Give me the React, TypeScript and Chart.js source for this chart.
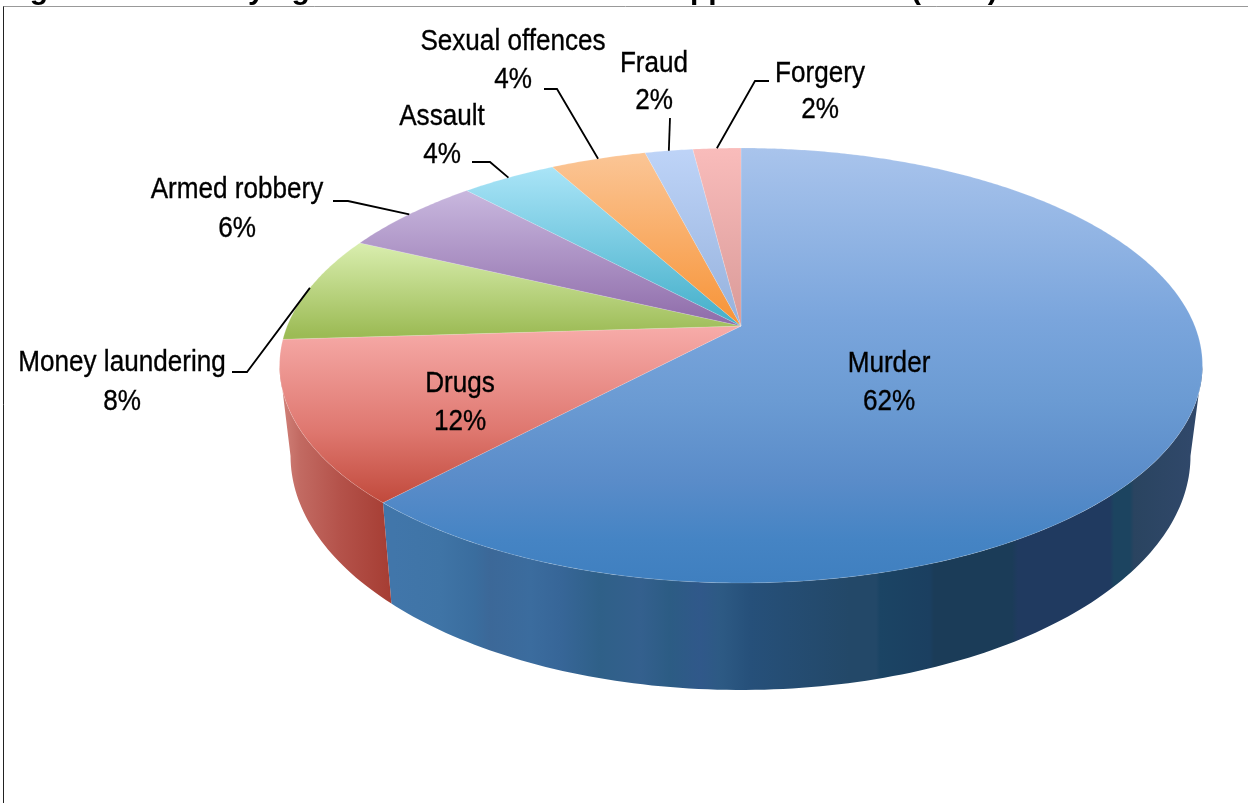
import React, { useEffect, useRef } from "react";
import { Chart, registerables } from "chart.js";

Chart.register(...registerables);

const categories = ["Murder", "Drugs", "Money laundering", "Armed robbery", "Assault", "Sexual offences", "Fraud", "Forgery"];
const shares = [62, 12, 8, 6, 4, 4, 2, 2];
const titleParts = ["Figure 11: Underlying offences of those", "appeals decided", "(2016)"];

// Layout and styling (not data)
const W = 1248;
const H = 803;
const APEX = { x: 741, y: 326 };
const PERSP = 0.1816;
const KY = -151.1;
const KX = 453.8;
const TOP_E = { cx: 741.5, cy: 365.5, rx: 461.5, ry: 217.5 };
const LOW_E = { cx: 741, cy: 456, rx: 450, ry: 234 };
const FONT_SIZE = 29;
const TEXT_SQUEEZE = 0.9;

const faceStops: [number, string][][] = [
  [[148, "#a9c4ec"], [320, "#7aa5dc"], [400, "#6b9bd3"], [480, "#5a8cc9"], [540, "#4584c4"], [583, "#3f7fbf"]],
  [[330, "#f6aaa7"], [430, "#df7870"], [505, "#c0483a"]],
  [[245, "#d8edad"], [335, "#9cbb55"]],
  [[192, "#c8b7de"], [326, "#8e6ba9"]],
  [[168, "#a9e4f7"], [326, "#42aec9"]],
  [[155, "#fbc595"], [326, "#f79336"]],
  [[153, "#bdd3f7"], [326, "#95b1dc"]],
  [[149, "#f9bcbb"], [326, "#d99a98"]],
];

const sideStops: ([number, string][] | null)[] = [
  [[393, "#4176aa"], [440, "#3f74a6"], [475, "#3a6d9e"], [490, "#3c6898"], [530, "#3b6c9e"], [560, "#376698"], [600, "#2f6088"], [640, "#34608e"], [670, "#2c5c84"], [700, "#30588a"], [720, "#2d5a84"], [750, "#26507a"], [850, "#234868"], [876, "#234868"], [880, "#1b4464"], [930, "#1b3f60"], [934, "#1b3c58"], [1012, "#1b3c58"], [1018, "#203a60"], [1110, "#203a60"], [1114, "#1c4460"], [1130, "#1c4460"], [1134, "#2a4460"], [1191, "#30486a"]],
  [[283, "#d08078"], [300, "#c26a62"], [340, "#b4524a"], [393, "#a53c32"]],
  null, null, null, null, null, null,
];

const labelLayout: { cx: number; y1: number; y2: number; elbow: [number, number][] }[] = [
  { cx: 889, y1: 372, y2: 410, elbow: [] },
  { cx: 460, y1: 392, y2: 430, elbow: [] },
  { cx: 122, y1: 371, y2: 410, elbow: [[232, 372], [247, 372]] },
  { cx: 237, y1: 198, y2: 237, elbow: [[333, 201], [348, 201]] },
  { cx: 442, y1: 125, y2: 163, elbow: [[472, 162], [490, 162]] },
  { cx: 513, y1: 50, y2: 88, elbow: [[544, 89], [557, 89]] },
  { cx: 654, y1: 72, y2: 109, elbow: [[670, 118]] },
  { cx: 820, y1: 82, y2: 118, elbow: [[769, 81], [755, 81]] },
];

// theta: clockwise from the top of the pie, radians
function rim(theta: number) {
  const u = Math.sin(theta);
  const v = Math.cos(theta);
  const d = 1 + PERSP * v;
  return { x: APEX.x + (KX * u) / d, y: (APEX.y + KY * v) / d };
}

function lowRim(theta: number) {
  const p = rim(theta);
  const nx = (p.x - TOP_E.cx) / TOP_E.rx;
  const ny = (p.y - TOP_E.cy) / TOP_E.ry;
  return { x: LOW_E.cx + nx * LOW_E.rx, y: LOW_E.cy + ny * LOW_E.ry };
}

function gradient(ctx: CanvasRenderingContext2D, stops: [number, string][], vertical: boolean) {
  const a = stops[0][0];
  const b = stops[stops.length - 1][0];
  const g = vertical ? ctx.createLinearGradient(0, a, 0, b) : ctx.createLinearGradient(a, 0, b, 0);
  stops.forEach(([p, c]) => g.addColorStop((p - a) / (b - a), c));
  return g;
}

const pie3d = {
  id: "pie3d",
  beforeDatasetsDraw(chart: any) {
    const ctx: CanvasRenderingContext2D = chart.ctx;
    const arcs = chart.getDatasetMeta(0).data;
    const STEP = Math.PI / 180;
    const total = shares.reduce((a, b) => a + b, 0);
    const widest = Math.acos(-PERSP);

    ctx.save();
    // frame of the chart area
    ctx.lineWidth = 1;
    ctx.strokeStyle = "#999999";
    ctx.beginPath();
    ctx.moveTo(3, 6.5);
    ctx.lineTo(W, 6.5);
    ctx.stroke();
    ctx.strokeStyle = "#222222";
    ctx.beginPath();
    ctx.moveTo(3.5, 6.5);
    ctx.lineTo(3.5, H);
    ctx.stroke();

    // clipped title above the frame
    ctx.fillStyle = "#000";
    ctx.font = 'bold 30px "Liberation Sans"';
    ctx.textAlign = "left";
    ctx.textBaseline = "alphabetic";
    ctx.fillText(titleParts[0], 3, -1);
    const apX = 693 - ctx.measureText("a").width - 3;
    ctx.fillText(titleParts[1], apX, -1);
    ctx.fillText(titleParts[2], 911, -1);

    // extruded side: one band per visible slice, bounded by the widest points of the rim
    arcs.forEach((arc: any, i: number) => {
      const stops = sideStops[i];
      if (!stops) return;
      const from = Math.max(arc.startAngle + Math.PI / 2, widest);
      const to = Math.min(arc.endAngle + Math.PI / 2, 2 * Math.PI - widest);
      const top: number[] = [];
      for (let t = from; t < to; t += STEP) top.push(t);
      top.push(to);
      ctx.beginPath();
      top.forEach((a, k) => {
        const p = rim(a);
        if (k === 0) ctx.moveTo(p.x, p.y);
        else ctx.lineTo(p.x, p.y);
      });
      [...top].reverse().forEach((a) => {
        const p = lowRim(a);
        ctx.lineTo(p.x, p.y);
      });
      ctx.closePath();
      ctx.fillStyle = gradient(ctx, stops, false);
      ctx.fill();
    });

    // top faces
    arcs.forEach((arc: any, i: number) => {
      const start = arc.startAngle + Math.PI / 2;
      const end = arc.endAngle + Math.PI / 2;
      ctx.beginPath();
      ctx.moveTo(APEX.x, APEX.y);
      for (let t = start; t < end; t += STEP / 2) {
        const p = rim(t);
        ctx.lineTo(p.x, p.y);
      }
      const e = rim(end);
      ctx.lineTo(e.x, e.y);
      ctx.closePath();
      ctx.fillStyle = gradient(ctx, faceStops[i], true);
      ctx.fill();
      ctx.strokeStyle = "rgba(255,255,255,0.15)";
      ctx.lineWidth = 1;
      ctx.stroke();
    });

    // leader lines
    ctx.strokeStyle = "#000";
    ctx.lineWidth = 1.8;
    arcs.forEach((arc: any, i: number) => {
      const pts = labelLayout[i].elbow;
      if (!pts.length) return;
      const mid = (arc.startAngle + arc.endAngle) / 2 + Math.PI / 2;
      const r = rim(mid);
      ctx.beginPath();
      ctx.moveTo(pts[0][0], pts[0][1]);
      pts.slice(1).forEach((p) => ctx.lineTo(p[0], p[1]));
      ctx.lineTo(r.x, r.y);
      ctx.stroke();
    });

    // data labels
    ctx.fillStyle = "#000";
    ctx.strokeStyle = "#000";
    ctx.lineWidth = 0.35;
    ctx.font = `${FONT_SIZE}px "Liberation Sans"`;
    ctx.textAlign = "center";
    const put = (s: string, x: number, y: number) => {
      ctx.save();
      ctx.translate(x, y);
      ctx.scale(TEXT_SQUEEZE, 1);
      ctx.fillText(s, 0, 0);
      ctx.strokeText(s, 0, 0);
      ctx.restore();
    };
    categories.forEach((c, i) => {
      const l = labelLayout[i];
      put(c, l.cx, l.y1);
      put(`${Math.round((shares[i] / total) * 100)}%`, l.cx, l.y2);
    });
    ctx.restore();
    return false;
  },
};

export default function App() {
  const ref = useRef<HTMLCanvasElement>(null);
  useEffect(() => {
    document.body.style.margin = "0";
    document.body.style.background = "#ffffff";
    const chart = new Chart(ref.current as HTMLCanvasElement, {
      type: "pie",
      data: {
        labels: categories,
        datasets: [{ data: shares, borderWidth: 0 }],
      },
      options: {
        responsive: false,
        animation: false,
        layout: { padding: 0 },
        plugins: { legend: { display: false }, tooltip: { enabled: false } },
      },
      plugins: [pie3d as any],
    });
    return () => chart.destroy();
  }, []);
  return (
    <div style={{ position: "absolute", left: 0, top: 0, width: W, height: H, overflow: "hidden" }}>
      <canvas ref={ref} width={W} height={H} style={{ display: "block", width: W, height: H }} />
    </div>
  );
}
